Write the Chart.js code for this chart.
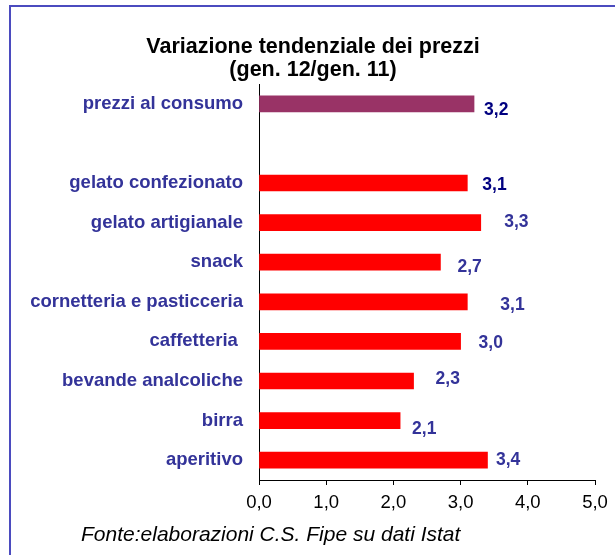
<!DOCTYPE html>
<html>
<head>
<meta charset="utf-8">
<script src="https://cdn.jsdelivr.net/npm/chart.js@4/dist/chart.umd.min.js"></script>
<style>
  html, body { margin: 0; padding: 0; background: #fff; overflow: hidden; }
  #wrap { position: relative; width: 615px; height: 555px; }
  #frame { position: absolute; left: 9px; top: 5px; width: 700px; height: 700px; border: 2px solid #4b4bbf; }
  canvas { position: absolute; left: 0; top: 0; }
</style>
</head>
<body>
<div id="wrap">
  <div id="frame"></div>
  <canvas id="myChart" width="615" height="555"></canvas>
</div>
<script>
let categories = [
  "prezzi al consumo",
  "",
  "gelato confezionato",
  "gelato artigianale",
  "snack",
  "cornetteria e pasticceria",
  "caffetteria ",
  "bevande analcoliche",
  "birra",
  "aperitivo",
];
let values = [3.2, null, 3.1, 3.3, 2.7, 3.1, 3.0, 2.3, 2.1, 3.4];
let xTicks = [0, 1, 2, 3, 4, 5];

let titleLines = ["Variazione tendenziale dei prezzi", "(gen. 12/gen. 11)"];
let sourceNote = "Fonte:elaborazioni C.S. Fipe su dati Istat";

// look of the bars and of the value labels (as placed in the original)
let barColors = ["#993366", "#FF0000", "#FF0000", "#FF0000", "#FF0000", "#FF0000", "#FF0000", "#FF0000", "#FF0000", "#FF0000"];
let labelColors = ["#000080", "#000080", "#000080", "#333399", "#333399", "#333399", "#333399", "#333399", "#333399", "#333399"];
let labelDx = [10, 0, 15, 23.5, 17, 33, 18, 22, 12, 8.5];
let labelDy = [6, 0, 2, 0, 5, 3, 2, -1.5, 9, 0];

let fontFamily = "'Liberation Sans', Arial, sans-serif";

function comma(v) {
  return v.toFixed(1).replace(".", ",");
}

let textPlugin = {
  id: "texts",
  afterDraw(chart) {
    let ctx = chart.ctx;
    ctx.save();

    // title
    ctx.fillStyle = "#000";
    ctx.textAlign = "center";
    ctx.textBaseline = "middle";
    ctx.font = "bold 21.5px " + fontFamily;
    ctx.fillText(titleLines[0], 313, 47);
    ctx.fillText(titleLines[1], 313, 70);

    // value labels
    let meta = chart.getDatasetMeta(0);
    ctx.font = "bold 17.5px " + fontFamily;
    ctx.textAlign = "left";
    meta.data.forEach((bar, i) => {
      if (values[i] == null) return;
      ctx.fillStyle = labelColors[i];
      ctx.fillText(comma(values[i]), bar.x + labelDx[i], bar.y + labelDy[i]);
    });

    // source
    ctx.fillStyle = "#000";
    ctx.font = "italic 21px " + fontFamily;
    ctx.fillText(sourceNote, 81, 535);
    ctx.restore();
  },
};

let data = {
  labels: categories,
  datasets: [
    {
      data: values,
      backgroundColor: barColors,
      barThickness: 16,
    },
  ],
};

let priceChart = new Chart(document.getElementById("myChart"), {
  type: "bar",
  data: data,
  plugins: [textPlugin],
  options: {
    indexAxis: "y",
    responsive: false,
    animation: false,
    layout: { padding: { top: 84, right: 20, bottom: 40, left: 0 } },
    plugins: {
      legend: { display: false },
      tooltip: { enabled: false },
    },
    scales: {
      x: {
        min: 0,
        max: 5,
        afterFit: (axis) => (axis.height = 35),
        afterBuildTicks: (axis) => (axis.ticks = xTicks.map((v) => ({ value: v }))),
        grid: { drawOnChartArea: false, drawTicks: true, tickLength: 5, color: "#000" },
        border: { display: true, color: "#000", width: 1 },
        ticks: {
          color: "#000",
          padding: 7,
          font: { family: fontFamily, size: 18.5 },
          callback: (v) => comma(v),
        },
      },
      y: {
        afterFit: (axis) => (axis.width = 259),
        grid: { display: false, drawTicks: false },
        border: { display: true, color: "#000", width: 1 },
        ticks: {
          color: "#333399",
          padding: 16,
          font: { family: fontFamily, size: 18.5, weight: "bold" },
        },
      },
    },
  },
});
</script>
</body>
</html>
